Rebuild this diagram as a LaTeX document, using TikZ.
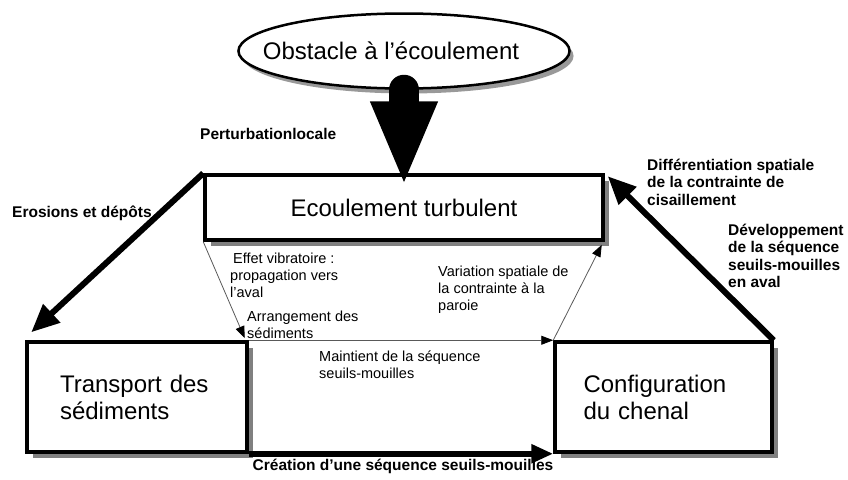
\documentclass[tikz,border=0pt]{standalone}
\usepackage{fontspec}
\setmainfont{Liberation Sans}
\usetikzlibrary{shapes.geometric, arrows.meta, shadows}

\begin{document}
\begin{tikzpicture}[
  x=1pt, y=-1pt,
  boxshadow/.style={drop shadow={shadow xshift=6pt, shadow yshift=-6pt, fill=black!50, opacity=1}},
  procbox/.style={rectangle, draw=black, line width=3.5pt, fill=white, boxshadow,
             align=left, inner sep=0pt, font=\fontsize{24}{27}\selectfont},
  ovalbox/.style={ellipse, draw=black, line width=2.5pt, fill=white,
             drop shadow={shadow xshift=4pt, shadow yshift=-5pt, fill=black!40, opacity=1},
             minimum width=325pt, minimum height=75pt, inner xsep=-24pt, inner ysep=0pt,
             font=\fontsize{24}{26}\selectfont},
  lbl/.style={inner sep=0pt, align=left, anchor=west, font=\fontsize{14.5}{17}\selectfont},
  boldlbl/.style={lbl, font=\fontsize{15.5}{17.5}\selectfont\bfseries},
  thinarrow/.style={-{Triangle[length=12pt, width=9pt, color=black]}, line width=0.8pt, draw=black!65},
  thickarrow/.style={-{Triangle[length=28pt, width=24pt]}, line width=6pt},
  flatarrow/.style={-{Triangle[length=22pt, width=18pt]}, line width=6pt},
  bigarrow/.style={-{Triangle[length=85pt, width=61pt]}, line width=30pt, line cap=round}
]
\useasboundingbox (0,0) rectangle (848,479);

\node[ovalbox] (obst) at (404,51) {Obstacle à l'écoulement\rule{26pt}{0pt}};
\node[procbox, minimum width=398pt, minimum height=65pt] (ecou) at (404,207.5) {Ecoulement turbulent};
\node[procbox, minimum width=220pt, minimum height=110pt, text width=154pt] (trans) at (137,397) {Transport des\\sédiments};
\node[procbox, minimum width=217pt, minimum height=110pt, text width=160pt] (config) at (663.5,397) {Configuration\\du chenal};

\node[boldlbl] (perturb) at (200,134) {Perturbationlocale};
\node[boldlbl] (erosion) at (12,213) {Erosions et dépôts};
\node[boldlbl] (differ) at (647,182) {Différentiation spatiale\\de la contrainte de\\cisaillement};
\node[boldlbl] (develop) at (728,256) {Développement\\de la séquence\\seuils-mouilles\\en aval};
\node[lbl] (vibr) at (230,275) {\hspace{3pt}Effet vibratoire :\\propagation vers\\l'aval};
\node[lbl] (arrang) at (247,325) {Arrangement des\\sédiments};
\node[lbl] (varia) at (438,290) {Variation spatiale de\\la contrainte à la\\paroie};
\node[lbl] (maint) at (319,365) {Maintient de la séquence\\seuils-mouilles};
\node[boldlbl, anchor=center] (creat) at (403,466) {Création d'une séquence seuils-mouilles};

\draw[bigarrow] (obst.south) -- ([yshift=-13pt]ecou.north);
\draw[thickarrow] (ecou.north west) -- ([shift={(6,-8)}]trans.north west);
\draw[thickarrow] (config.north east) -- ([shift={(3,3)}]ecou.north east);
\draw[thinarrow] (ecou.south west) -- ([shift={(-4,-2)}]trans.north east);
\draw[thinarrow] (trans.north east) -- (config.north west);
\draw[thinarrow] (config.north west) -- ([shift={(-3,3)}]ecou.south east);
\draw[flatarrow] (trans.south east) -- (config.south west);

\end{tikzpicture}
\end{document}
